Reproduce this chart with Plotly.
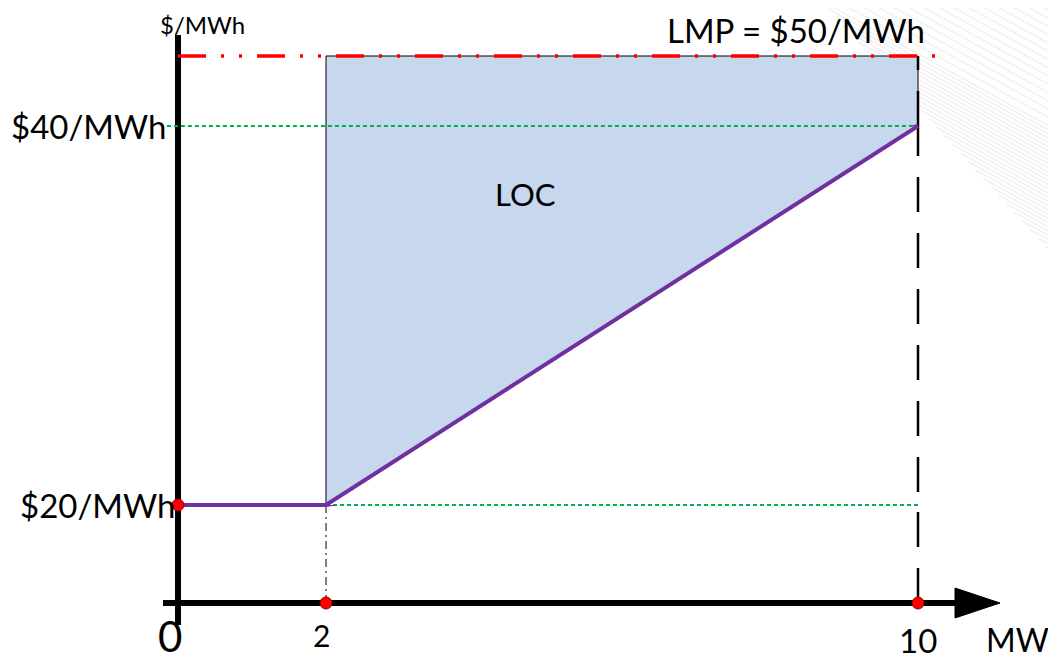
import plotly.graph_objects as go

# ---- data (schematic offer curve / lost opportunity cost) ----
mw_points = [0, 2, 10]            # MW break points of the offer curve
offer_price = [20, 20, 40]        # $/MWh at those break points
lmp_price = 50                    # LMP $/MWh
lmp_span = [0, 10.3]              # MW extent of the LMP line
loc_mw = [2, 10, 10, 2]           # LOC region corners (MW)
loc_price = [20, 40, 50, 50]      # LOC region corners ($/MWh)
ref40_mw = [-0.15, 10]            # green reference line at $40
ref20_mw = [2, 10]                # green reference line at $20
price_ticks = [20, 40]
price_tick_text = ["$20/MWh", "$40/MWh"]
mw_ticks = [2, 10]
mw_tick_text = ["2", "10"]

FONT = "Lato"
BANDS = ["y", "y2", "y3"]

# figure placement (page has an 8px body margin)
OFF = 8
W, H = 1056 - OFF, 661 - OFF


def px(xp):          # page pixel -> paper x
    return (xp - OFF) / W


def py(yp):          # page pixel -> paper y
    return 1 - (yp - OFF) / H


X0 = 178 - OFF       # figure pixel of MW = 0
XS = 74              # pixels per MW

fig = go.Figure()


def add_everywhere(**kw):
    for ax in BANDS:
        fig.add_trace(go.Scatter(xaxis="x", yaxis=ax, showlegend=False,
                                 hoverinfo="skip", **kw))


# LOC filled region
add_everywhere(x=loc_mw + [loc_mw[0]], y=loc_price + [loc_price[0]],
               mode="lines", fill="toself", fillcolor="#C6D7EE",
               line=dict(color="black", width=1))
# green dotted reference lines
add_everywhere(x=ref40_mw, y=[price_ticks[1]] * 2, mode="lines",
               line=dict(color="#00B050", width=2, dash="4px,3px"))
add_everywhere(x=ref20_mw, y=[price_ticks[0]] * 2, mode="lines",
               line=dict(color="#00B050", width=2, dash="4px,3px"))
# vertical guides
add_everywhere(x=[mw_points[1]] * 2, y=[0, offer_price[1]], mode="lines",
               line=dict(color="black", width=1, dash="8px,4px,2px,4px"))
add_everywhere(x=[mw_points[2]] * 2, y=[0, lmp_price], mode="lines",
               line=dict(color="black", width=2.5, dash="35px,21px"))
# offer curve
add_everywhere(x=mw_points, y=offer_price, mode="lines",
               line=dict(color="#7030A0", width=4))
# LMP line
add_everywhere(x=lmp_span, y=[lmp_price] * 2, mode="lines",
               line=dict(color="#FF0000", width=3.5,
                         dash="28px,15px,3px,15px,3px,15px"))

# faint striped watermark in the top-right corner (decorative)
segs = []
slope = 0.55
starts = [(820 + k * 15, 0) for k in range(16)]
starts += [(820 + 0.915 * yb, yb) for yb in [8.5 * k for k in range(1, 31)]]
for xs, ys in starts:
    if xs >= 1056:
        continue
    ye = ys + slope * (1056 - xs)
    segs.append(f"M {px(xs):.4f} {py(ys):.4f} L {px(1056):.4f} {py(ye):.4f}")

shapes = [
    dict(type="path", xref="paper", yref="paper", layer="below",
         path=" ".join(segs), line=dict(color="#F1F1F1", width=1.5)),
    dict(type="line", xref="x", yref="paper", x0=0, x1=0, layer="below",
         y0=py(625), y1=py(35), line=dict(color="black", width=6)),
    dict(type="line", xref="paper", yref="y", x0=px(163), x1=px(960),
         layer="below", y0=0, y1=0, line=dict(color="black", width=6)),
    dict(type="path", xref="paper", yref="paper", layer="below",
         path=f"M {px(955)} {py(588)} L {px(955)} {py(618)} "
              f"L {px(1000)} {py(603)} Z",
         fillcolor="black", line=dict(color="black", width=1)),
]

# red dots
dot = dict(color="#FF0000", size=12, line=dict(color="#8B0000", width=1))
fig.add_trace(go.Scatter(x=[mw_points[0]], y=[offer_price[0]], xaxis="x",
                         yaxis="y2", mode="markers", cliponaxis=False,
                         marker=dot, showlegend=False, hoverinfo="skip"))
fig.add_trace(go.Scatter(x=mw_ticks, y=[0, 0], xaxis="x", yaxis="y",
                         mode="markers", cliponaxis=False,
                         marker=dot, showlegend=False, hoverinfo="skip"))


def label(text, x, y, size, xref="paper", yref="paper", xanchor="center",
          yanchor="middle", xshift=0):
    return dict(text=text, xref=xref, yref=yref, x=x, y=y, xanchor=xanchor,
                yanchor=yanchor, xshift=xshift, showarrow=False,
                font=dict(size=size))


annotations = [
    label("$/MWh", px(202), 1, 24, yanchor="top"),
    label("LMP = $50/MWh", px(796), 1, 33, yanchor="top"),
    label(price_tick_text[1], px(168), price_ticks[1], 33, yref="y2",
          xanchor="right"),
    label(price_tick_text[0], px(177), price_ticks[0], 33, yref="y2",
          xanchor="right"),
    label("LOC", px(525), py(194), 31),
    label("0", px(170), py(636), 42),
    label(mw_tick_text[0], mw_ticks[0], py(635), 30, xref="x", xshift=-5),
    label(mw_tick_text[1], mw_ticks[1], py(640), 33, xref="x"),
    label("MW", px(1017), 0, 32, yanchor="bottom"),
]

hidden = dict(visible=False, showgrid=False, zeroline=False, fixedrange=True)
fig.update_layout(
    width=W, height=H, autosize=False,
    margin=dict(l=0, r=0, t=0, b=0),
    paper_bgcolor="white", plot_bgcolor="rgba(0,0,0,0)",
    font=dict(family=FONT, color="black"),
    xaxis=dict(range=[-X0 / XS, (W - X0) / XS], domain=[0, 1],
               anchor="y", **hidden),
    yaxis=dict(range=[-(H - (603 - OFF)) / 98 * 20, 20],
               domain=[0, py(505)], anchor="x", **hidden),
    yaxis2=dict(range=[20, 40], domain=[py(505), py(126)],
                anchor="x", **hidden),
    yaxis3=dict(range=[40, 40 + (126 - OFF) / 7], domain=[py(126), 1],
                anchor="x", **hidden),
    shapes=shapes, annotations=annotations, showlegend=False,
)

fig.write_html("out.html")
